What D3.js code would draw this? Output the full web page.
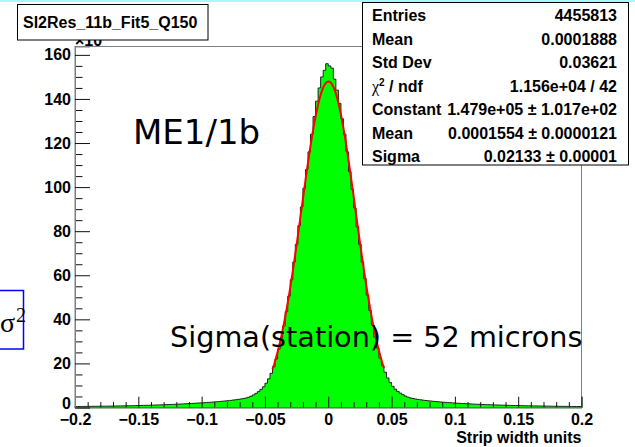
<!DOCTYPE html>
<html>
<head>
<meta charset="utf-8">
<script src="https://cdn.jsdelivr.net/npm/d3@7"></script>
<style>
  body { margin: 0; background: #fff; }
  svg { display: block; }
  .tick text { font-family: "Liberation Sans", Arial, sans-serif; font-weight: bold; font-size: 16px; fill: #000; }
</style>
</head>
<body>
<svg width="635" height="447"></svg>
<script>
// histogram contents, 200 bins of 0.002 from -0.2 to 0.2 (units of 10^3 entries)
const binLow = -0.2;
const binWidth = 0.002;
const counts = [
  0.45, 0.46, 0.47, 0.49, 0.50, 0.51, 0.52, 0.54, 0.55, 0.57,
  0.58, 0.60, 0.61, 0.63, 0.65, 0.67, 0.69, 0.71, 0.73, 0.75,
  0.77, 0.80, 0.82, 0.85, 0.88, 0.91, 0.94, 0.97, 1.00, 1.03,
  1.07, 1.10, 1.14, 1.18, 1.22, 1.26, 1.30, 1.35, 1.40, 1.45,
  1.50, 1.55, 1.61, 1.67, 1.73, 1.79, 1.86, 1.93, 2.00, 2.07,
  2.14, 2.22, 2.30, 2.38, 2.47, 2.56, 2.66, 2.76, 2.87, 2.98,
  3.10, 3.23, 3.37, 3.52, 3.68, 3.86, 4.06, 4.30, 4.65, 5.10,
  5.70, 6.40, 7.20, 8.20, 9.40, 11.0, 13.0, 15.5, 18.5, 22.0,
  26.5, 31.5, 37.0, 43.5, 50.5, 58.0, 66.0, 74.0, 82.5, 91.0,
  99.5, 108, 116, 124, 132, 139, 145, 150, 153, 156,
  155, 154, 149, 144, 138, 131, 124, 116, 107, 99,
  90.5, 82, 74, 66, 58.5, 51, 44, 37.5, 32, 27,
  22.5, 19, 16, 13.4, 11.3, 9.6, 8.3, 7.3, 6.5, 5.8,
  5.2, 4.7, 4.35, 4.08, 3.85, 3.66, 3.49, 3.33, 3.18, 3.05,
  2.93, 2.82, 2.71, 2.60, 2.50, 2.41, 2.32, 2.23, 2.15, 2.07,
  1.99, 1.92, 1.85, 1.78, 1.72, 1.66, 1.60, 1.54, 1.49, 1.44,
  1.39, 1.34, 1.30, 1.25, 1.21, 1.17, 1.13, 1.10, 1.06, 1.03,
  1.00, 0.97, 0.94, 0.91, 0.88, 0.86, 0.83, 0.81, 0.78, 0.76,
  0.74, 0.72, 0.70, 0.68, 0.66, 0.64, 0.62, 0.61, 0.59, 0.57,
  0.56, 0.54, 0.53, 0.51, 0.50, 0.49, 0.47, 0.46, 0.45, 0.44
];

// gaussian fit (values from the stats box)
const fitConstant = 147.9;   // x10^3
const fitMean = 0.0001554;
const fitSigma = 0.02133;
const fitRange = [-0.044, 0.044];

// axes
const xTicks = [-0.2, -0.15, -0.1, -0.05, 0, 0.05, 0.1, 0.15, 0.2];
const xTickLabels = ['\u22120.2', '\u22120.15', '\u22120.1', '\u22120.05', '0', '0.05', '0.1', '0.15', '0.2'];
const yTicks = [0, 20, 40, 60, 80, 100, 120, 140, 160];
const yMax = 163.8;

// stats box
const statNames = ['Entries', 'Mean', 'Std Dev', 'chi2', 'Constant', 'Mean', 'Sigma'];
const statValues = ['4455813', '0.0001888', '0.03621', '1.156e+04 / 42',
  '1.479e+05 \u00b1 1.017e+02', '0.0001554 \u00b1 0.0000121', '0.02133 \u00b1 0.00001'];

const title = 'Sl2Res_11b_Fit5_Q150';
const xTitle = 'Strip width units';

const svg = d3.select('svg');
const font = '"Liberation Sans", Arial, sans-serif';
const comic = '"DejaVu Sans", sans-serif';

// frame
const frame = { left: 75, right: 581.5, top: 46.5, bottom: 407.5 };

const x = d3.scaleLinear().domain([-0.2, 0.2]).range([frame.left, frame.right]);
const y = d3.scaleLinear().domain([0, yMax]).range([frame.bottom, frame.top]);

// bande cyan en haut
svg.append('rect').attr('x', 0).attr('y', 0).attr('width', 635).attr('height', 2).attr('fill', '#a8fafa');

// x10^3 (sous le titre)
svg.append('text')
  .attr('x', 75).attr('y', 46)
  .attr('font-family', font).attr('font-weight', 'bold').attr('font-size', 16)
  .html('\u00d710<tspan dy="-6" font-size="11">3</tspan>');

// histogramme
let d = `M${x(binLow)},${y(0)}`;
counts.forEach((c, i) => {
  const x0 = x(binLow + i * binWidth);
  const x1 = x(binLow + (i + 1) * binWidth);
  d += `L${x0},${y(c)}L${x1},${y(c)}`;
});
d += `L${x(binLow + counts.length * binWidth)},${y(0)}`;

svg.append('path')
  .attr('d', d + 'Z')
  .attr('fill', '#00ff00')
  .attr('stroke', 'none');

svg.append('path')
  .attr('d', d)
  .attr('fill', 'none')
  .attr('stroke', '#222')
  .attr('stroke-width', 1);

// courbe du fit
const fitX = d3.range(0, 121).map(k => fitRange[0] + k * (fitRange[1] - fitRange[0]) / 120);
const fitLine = d3.line()
  .x(v => x(v))
  .y(v => y(fitConstant * Math.exp(-0.5 * Math.pow((v - fitMean) / fitSigma, 2))))
  .curve(d3.curveLinear);

svg.append('path')
  .attr('d', fitLine(fitX))
  .attr('fill', 'none')
  .attr('stroke', '#ff0000')
  .attr('stroke-width', 2);

// cadre
svg.append('rect')
  .attr('x', frame.left).attr('y', frame.top)
  .attr('width', frame.right - frame.left).attr('height', frame.bottom - frame.top)
  .attr('fill', 'none').attr('stroke', '#808080').attr('stroke-width', 1);

// axe X
const xMinor = d3.range(-20, 21).map(k => k / 100).filter(v => Math.abs(v * 20 - Math.round(v * 20)) > 1e-6);
svg.append('g')
  .attr('transform', `translate(0,${frame.bottom})`)
  .call(d3.axisBottom(x).tickValues(xMinor).tickSize(-5.4).tickFormat(''))
  .call(g => g.select('.domain').remove())
  .call(g => g.selectAll('.tick line').attr('stroke', '#111'));

svg.append('g')
  .attr('transform', `translate(0,${frame.bottom})`)
  .call(d3.axisBottom(x).tickValues(xTicks).tickSize(-10.8).tickPadding(6)
    .tickFormat((v, i) => xTickLabels[i]))
  .call(g => g.select('.domain').attr('stroke', '#2d7a2d'))
  .call(g => g.selectAll('.tick line').attr('stroke', '#111'));

// axe Y
const yMinor = d3.range(0, 164, 5).filter(v => v % 20 !== 0);
svg.append('g')
  .attr('transform', `translate(${frame.left},0)`)
  .call(d3.axisLeft(y).tickValues(yMinor).tickSize(-7.5).tickFormat(''))
  .call(g => g.select('.domain').remove())
  .call(g => g.selectAll('.tick line').attr('stroke', '#111'));

svg.append('g')
  .attr('transform', `translate(${frame.left},0)`)
  .call(d3.axisLeft(y).tickValues(yTicks).tickSize(-15).tickPadding(4).tickFormat(d3.format('d')))
  .call(g => g.select('.domain').attr('stroke', '#808080'))
  .call(g => g.selectAll('.tick line').attr('stroke', '#111'))
  // le "0" remonte un peu pour ne pas toucher "-0.2"
  .call(g => g.selectAll('.tick text').filter(v => v === 0).attr('dy', '0.05em'));

// titre X
svg.append('text')
  .attr('x', frame.right).attr('y', 443)
  .attr('text-anchor', 'end')
  .attr('font-family', font).attr('font-weight', 'bold').attr('font-size', 16)
  .text(xTitle);

// textes
svg.append('text')
  .attr('x', 133).attr('y', 144)
  .attr('font-family', comic).attr('font-size', 34)
  .text('ME1/1b');

svg.append('text')
  .attr('x', 170).attr('y', 347)
  .attr('font-family', comic).attr('font-size', 28.7)
  .text('Sigma(station) = 52 microns');

// boite sigma^2 (coupée à gauche)
svg.append('rect')
  .attr('x', -5).attr('y', 290.5).attr('width', 28.5).attr('height', 58.5)
  .attr('fill', 'none').attr('stroke', '#0000ff').attr('stroke-width', 1.5);
svg.append('text')
  .attr('x', 0).attr('y', 332)
  .attr('font-family', '"Liberation Serif", serif').attr('font-size', 28)
  .html('\u03c3<tspan x="16" y="322" font-size="20">2</tspan>');

// titre
svg.append('rect')
  .attr('x', 17.5).attr('y', 4.5).attr('width', 190.5).attr('height', 35.5)
  .attr('fill', '#fff').attr('stroke', '#000').attr('stroke-width', 1);
svg.append('text')
  .attr('x', 23).attr('y', 27.5)
  .attr('font-family', font).attr('font-weight', 'bold').attr('font-size', 16)
  .text(title);

// boite de stats
const stats = svg.append('g');
stats.append('rect')
  .attr('x', 362.5).attr('y', 2.5).attr('width', 266).attr('height', 162.5)
  .attr('fill', '#fff').attr('stroke', '#000').attr('stroke-width', 1);

statNames.forEach((name, i) => {
  const yy = 21 + i * 23.5;
  const t = stats.append('text')
    .attr('x', 372).attr('y', yy)
    .attr('font-family', font).attr('font-weight', 'bold').attr('font-size', 16);
  if (name === 'chi2') {
    t.append('tspan').attr('font-family', '"Liberation Serif", serif').attr('font-weight', 'normal').text('\u03c7');
    t.append('tspan').attr('dy', -6).attr('font-size', 10).text('2');
    t.append('tspan').attr('dy', 6).text(' / ndf');
  } else {
    t.text(name);
  }
  stats.append('text')
    .attr('x', 617).attr('y', yy)
    .attr('text-anchor', 'end')
    .attr('font-family', font).attr('font-weight', 'bold').attr('font-size', 16)
    .text(statValues[i]);
});
</script>
</body>
</html>
